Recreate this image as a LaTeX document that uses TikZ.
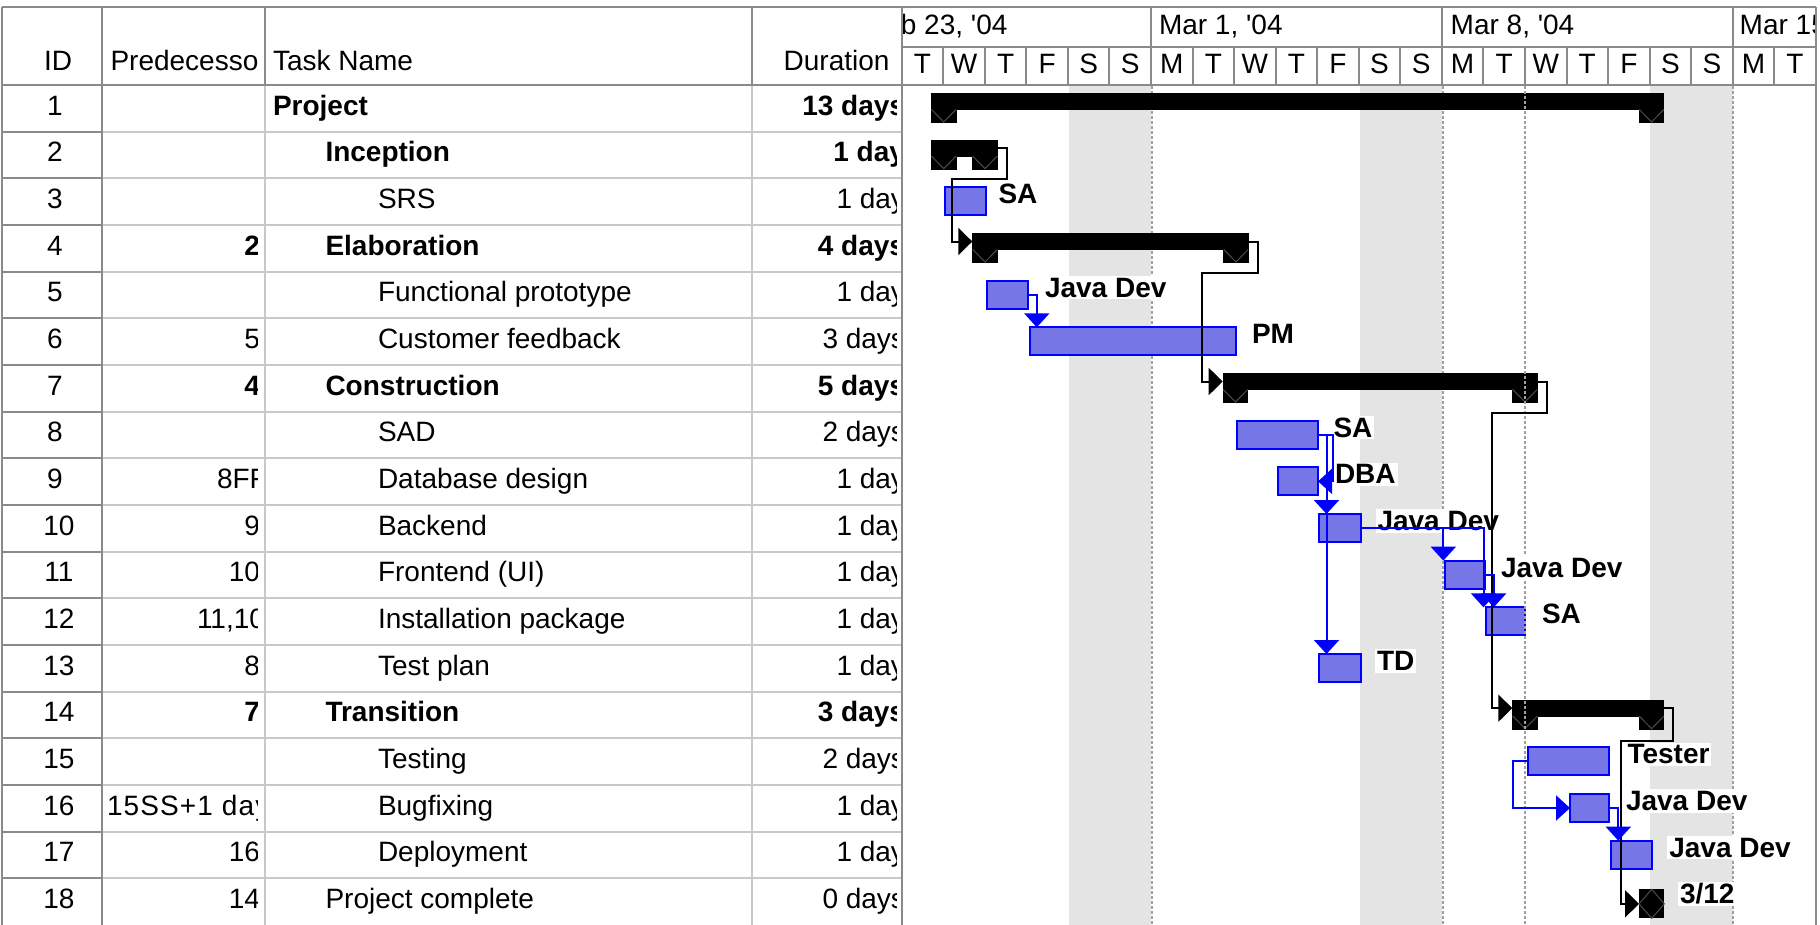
\documentclass[tikz,border=0pt]{standalone}
\usepackage{fontspec}
\setmainfont{Liberation Sans}
\usetikzlibrary{arrows.meta,calc}

\definecolor{gridDark}{RGB}{138,138,138}
\definecolor{gridLight}{RGB}{200,200,200}
\definecolor{barBlue}{RGB}{0,0,255}
\definecolor{barFill}{RGB}{118,118,230}
\definecolor{weekendFill}{RGB}{228,228,228}
\definecolor{capLine}{RGB}{75,75,75}
\definecolor{timeLine}{RGB}{160,160,160}

% task bar: name, row, left edge, right edge (outer, in px)
\newcommand{\taskbar}[4]{%
  \pgfmathsetmacro\tbw{(#4-#3-2)*0.5}%
  \node[taskbox, minimum width=\tbw pt, anchor=north west] (#1) at (#3+1,{rt(#2)+9}) {};}

% summary bar with end caps: name, row, left edge, right edge
\newcommand{\summarybar}[4]{%
  \pgfmathsetmacro\sbw{(#4-#3)*0.5}%
  \node[sumbody, minimum width=\sbw pt, anchor=north west] (#1) at (#3,{rt(#2)+8}) {};
  \fill[black] (#3,{rt(#2)+8}) rectangle ++(25.5,30);
  \fill[black] (#4,{rt(#2)+8}) rectangle ++(-25.5,30);
  \draw[capV] (#3+0.5,{rt(#2)+24.5}) -- ++(12.25,12.5) -- ++(12.25,-12.5);
  \draw[capV] (#4-25,{rt(#2)+24.5}) -- ++(12.25,12.5) -- ++(12.25,-12.5);}

\newcommand{\yr}{\textquotesingle04}

\begin{document}
\begin{tikzpicture}[x=0.5pt,y=-0.5pt,
  declare function={rt(\i)=85+(\i-1)*46.667;},
  txt/.style={font=\fontsize{14}{16.8}\selectfont, inner sep=0pt, outer sep=0pt},
  txtb/.style={font=\fontsize{14}{16.8}\selectfont\bfseries, inner sep=0pt, outer sep=0pt},
  reslabel/.style={txtb, fill=white, inner xsep=1pt, inner ysep=1pt},
  gdark/.style={draw=gridDark, line width=1pt},
  glight/.style={draw=gridLight, line width=1pt},
  taskbox/.style={rectangle, draw=barBlue, fill=barFill, line width=1pt,
    minimum height=14pt, inner sep=0pt, outer sep=0pt},
  sumbody/.style={rectangle, fill=black, minimum height=8.5pt, inner sep=0pt, outer sep=0pt},
  capV/.style={draw=capLine, line width=0.5pt},
  blink/.style={draw=black, line width=1pt, -{Triangle[length=7pt,width=13.5pt]}},
  bluelink/.style={draw=barBlue, line width=1pt, -{Triangle[length=7pt,width=12.5pt]}},
  weekline/.style={draw=timeLine, line width=1pt, dash pattern=on 1.5pt off 1pt},
]
\useasboundingbox (0,0) rectangle (1820,925);

% ---------- weekend shading and timescale lines ----------
\fill[weekendFill] (1069,86) rectangle (1151,925);
\fill[weekendFill] (1360,86) rectangle (1442,925);
\fill[weekendFill] (1650,86) rectangle (1733,925);
\foreach \xw in {1152,1443,1733} \draw[weekline] (\xw,86) -- (\xw,925);

% ---------- table header ----------
\node[txt, anchor=base] (hid) at (58,71) {ID};
\begin{scope}
  \clip (102,8) rectangle (258,85);
  \node[txt, anchor=base west] (hpred) at (110.5,71) {Predecessors};
\end{scope}
\node[txt, anchor=base west] (hname) at (273,71) {Task Name};
\node[txt, anchor=base east] (hdur) at (889.5,71) {Duration};

% ---------- timescale header ----------
\begin{scope}
  \clip (902,8) rectangle (1814,46.7);
  \node[txt, anchor=base west] (wk1) at (868.2,35) {Feb 23, \yr};
  \node[txt, anchor=base west] (wk2) at (1159,35) {Mar 1, \yr};
  \node[txt, anchor=base west] (wk3) at (1450.7,35) {Mar 8, \yr};
  \node[txt, anchor=base west] (wk4) at (1739.7,35) {Mar 15, \yr};
\end{scope}
\foreach \dl [count=\j from 0] in {T,W,T,F,S,S,M,T,W,T,F,S,S,M,T,W,T,F,S,S,M,T}
  \node[txt, anchor=base] (day\j) at ({901.7+41.55*(\j+0.5)},74) {\dl};

% ---------- table rows ----------
\foreach \i/\lv/\st/\nm/\du in {
  1/0/txtb/Project/13 days,
  2/1/txtb/Inception/1 day,
  3/2/txt/SRS/1 day,
  4/1/txtb/Elaboration/4 days,
  5/2/txt/Functional prototype/1 day,
  6/2/txt/Customer feedback/3 days,
  7/1/txtb/Construction/5 days,
  8/2/txt/SAD/2 days,
  9/2/txt/Database design/1 day,
  10/2/txt/Backend/1 day,
  11/2/txt/Frontend (UI)/1 day,
  12/2/txt/Installation package/1 day,
  13/2/txt/Test plan/1 day,
  14/1/txtb/Transition/3 days,
  15/2/txt/Testing/2 days,
  16/2/txt/Bugfixing/1 day,
  17/2/txt/Deployment/1 day,
  18/1/txt/Project complete/0 days}
{
  \node[txt, anchor=base] (id\i) at ({\i<10 ? 55 : 59},{rt(\i)+30.3}) {\i};
  \node[\st, anchor=base west] (nm\i) at ({273+52.5*\lv},{rt(\i)+30.3}) {\nm};
  \begin{scope}
    \clip (752,{rt(\i)}) rectangle (896.5,{rt(\i)+46.667});
    \node[\st, anchor=base east] (du\i) at (905,{rt(\i)+30.3}) {\du};
  \end{scope}
}

% predecessor cells
\begin{scope}
  \clip (102,85) rectangle (257.5,925);
  \foreach \i/\st/\pv/\an/\xp in {
    4/txtb/2/base east/260,
    6/txt/5/base east/260,
    7/txtb/4/base east/260,
    9/txt/8FF/base west/217,
    10/txt/9/base east/260,
    11/txt/10/base east/260,
    12/txt/{11,10}/base west/197,
    13/txt/8/base east/260,
    14/txtb/7/base east/260,
    16/txt/{\addfontfeature{LetterSpace=4}15SS+1 days}/base west/107,
    17/txt/16/base east/260,
    18/txt/14/base east/260}
    \node[\st, anchor=\an] (pr\i) at (\xp,{rt(\i)+30.3}) {\pv};
\end{scope}

% ---------- grid lines ----------
\foreach \i in {2,...,18} {
  \draw[glight] (102,{rt(\i)}) -- (902,{rt(\i)});
  \draw[gdark] (2,{rt(\i)}) -- (102,{rt(\i)});
}
\draw[glight] (265,85) -- (265,925);
\draw[glight] (752,85) -- (752,925);
\draw[gdark] (265,7.5) -- (265,85);
\draw[gdark] (752,7.5) -- (752,85);
\draw[gdark] (2,7.5) -- (1816,7.5);
\draw[gdark] (2,85) -- (1816,85);
\draw[gdark] (902,46.7) -- (1816,46.7);
\foreach \xv in {2,102,902,1816} \draw[gdark] (\xv,7.5) -- (\xv,925);
\foreach \j in {1,...,21} \draw[gdark] ({901.7+41.55*\j},46.7) -- ++(0,38.3);
\foreach \j in {6,13,20} \draw[gdark] ({901.7+41.55*\j},7.5) -- ++(0,39.2);

% ---------- summary bars ----------
\summarybar{s1}{1}{931}{1664.3}
\summarybar{s2}{2}{931}{997.7}
\summarybar{s4}{4}{972.3}{1248.7}
\summarybar{s7}{7}{1222.7}{1537.7}
\summarybar{s14}{14}{1512.3}{1664.3}

% ---------- task bars ----------
\taskbar{t3}{3}{944.3}{986.7}
\taskbar{t5}{5}{985.7}{1029.3}
\taskbar{t6}{6}{1029}{1237}
\taskbar{t8}{8}{1236}{1319}
\taskbar{t9}{9}{1277.3}{1319}
\taskbar{t10}{10}{1317.7}{1362}
\taskbar{t11}{11}{1444.3}{1485.7}
\taskbar{t12}{12}{1485}{1525.5}
\taskbar{t13}{13}{1317.7}{1362}
\taskbar{t15}{15}{1527.3}{1610.3}
\taskbar{t16}{16}{1569}{1610.3}
\taskbar{t17}{17}{1609.7}{1653.3}

% ---------- milestone ----------
\node[rectangle, fill=black, minimum width=12.65pt, minimum height=14.5pt,
  inner sep=0pt, outer sep=0pt] (m18) at (1651.7,{rt(18)+25.5}) {};
\draw[capV] (m18.west) -- (m18.north) -- (m18.east) -- (m18.south) -- cycle;

% ---------- status date line ----------
\draw[weekline] (1525,86) -- (1525,925);

% ---------- resource labels ----------
\foreach \nme/\xx/\rr/\lab in {
  l3/996.5/3/SA,
  l5/1043/5/Java Dev,
  l6/1250/6/PM,
  l8/1331.5/8/SA,
  l9/1333/9/DBA,
  l10/1375.5/10/Java Dev,
  l11/1499/11/Java Dev,
  l12/1540/12/SA,
  l13/1375/13/TD,
  l15/1625.5/15/Tester,
  l16/1624/16/Java Dev,
  l17/1667.3/17/Java Dev,
  l18/1678/18/{3/12}}
  \node[reslabel, anchor=base west] (\nme) at (\xx,{rt(\rr)+25.5}) {\lab};

% ---------- links between summary tasks ----------
\coordinate (k2) at ($(s2.east)+(9,0)$);
\coordinate (k2b) at (951.7,{rt(3)+0.5});
\draw[blink] (s2.east) -- (k2) |- (k2b) |- (s4.west);
\coordinate (k4) at ($(s4.east)+(9,0)$);
\coordinate (k4b) at (1202.3,{rt(5)+1});
\draw[blink] (s4.east) -- (k4) |- (k4b) |- (s7.west);
\coordinate (k7) at ($(s7.east)+(9,0)$);
\coordinate (k7b) at (1492.3,{rt(8)+1});
\draw[blink] (s7.east) -- (k7) |- (k7b) |- (s14.west);
\coordinate (k14) at ($(s14.east)+(9,0)$);
\coordinate (k14b) at (1620.7,{rt(15)+2.5});
\draw[blink] (s14.east) -- (k14) |- (k14b) |- (m18.west);

% ---------- links between tasks ----------
\coordinate (j5) at ($(t5.east)+(8.5,0)$);
\draw[bluelink] (t5.east) -- (j5) -- (j5 |- t6.north);
\coordinate (j8a) at ($(t8.east)+(15,0)$);
\draw[bluelink] (t8.east) -- (j8a) |- (t9.east);
\coordinate (j8b) at ($(t8.east)+(8.5,0)$);
\draw[bluelink] (t8.east) -- (j8b) -- (j8b |- t13.north);
\draw[bluelink] (t9.east) -| (j8b |- t10.north);
\coordinate (j10a) at ($(t11.north west)+(-2,0)$);
\draw[bluelink] (t10.east) -| (j10a);
\coordinate (j10b) at ($(t12.north west)+(-2.5,0)$);
\draw[bluelink] (t10.east) -| (j10b);
\coordinate (j11) at ($(t11.east)+(9,0)$);
\draw[bluelink] (t11.east) -- (j11) -- (j11 |- t12.north);
\coordinate (j15) at ($(t15.west)+(-15,0)$);
\draw[bluelink] (t15.west) -- (j15) |- (t16.west);
\coordinate (j16) at ($(t16.east)+(9,0)$);
\draw[bluelink] (t16.east) -- (j16) -- (j16 |- t17.north);
\end{tikzpicture}
\end{document}
